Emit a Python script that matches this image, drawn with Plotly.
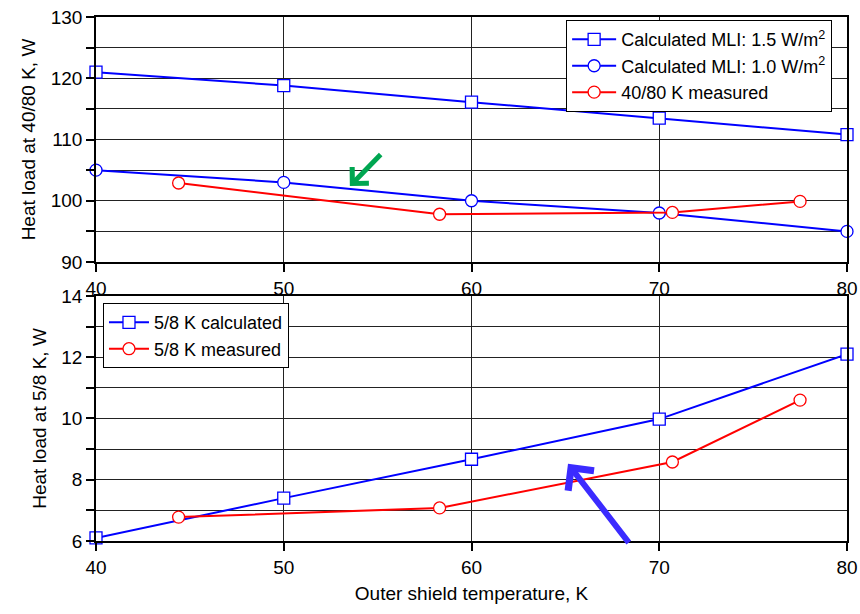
import plotly.graph_objects as go
from plotly.subplots import make_subplots

# Top panel data (40/80 K)
calc_x = [40, 50, 60, 70, 80]
mli15_y = [121.0, 118.8, 116.1, 113.5, 110.8]
mli10_y = [105.0, 103.0, 100.0, 98.0, 95.0]
meas_x = [44.4, 58.3, 70.7, 77.5]
meas4080_y = [102.9, 97.8, 98.1, 99.9]

# Bottom panel data (5/8 K)
calc58_y = [6.1, 7.4, 8.67, 9.98, 12.1]
meas58_y = [6.78, 7.08, 8.58, 10.6]

BLUE = "#0000ff"
RED = "#ff0000"
FONT = "Liberation Sans, Arial, sans-serif"
FS = 19

fig = make_subplots(rows=2, cols=1, shared_xaxes=False, vertical_spacing=0.0)

def add(x, y, name, color, symbol, row, legend):
    fig.add_trace(go.Scatter(
        x=x, y=y, name=name, mode="lines+markers",
        line=dict(color=color, width=2),
        marker=dict(symbol=symbol, size=12, color="white",
                    line=dict(color=color, width=1.3)),
        legend=legend, cliponaxis=False), row=row, col=1)

add(calc_x, mli15_y, "Calculated MLI: 1.5 W/m<sup>2</sup>", BLUE, "square", 1, "legend")
add(calc_x, mli10_y, "Calculated MLI: 1.0 W/m<sup>2</sup>", BLUE, "circle", 1, "legend")
add(meas_x, meas4080_y, "40/80 K measured", RED, "circle", 1, "legend")
add(calc_x, calc58_y, "5/8 K calculated", BLUE, "square", 2, "legend2")
add(meas_x, meas58_y, "5/8 K measured", RED, "circle", 2, "legend2")

axis_common = dict(
    showline=True, linecolor="black", linewidth=1.5, mirror=True,
    ticks="outside", ticklen=8, tickwidth=1.5, tickcolor="black",
    showgrid=True, gridcolor="#222222", gridwidth=1, zeroline=False,
    automargin=False,
    tickfont=dict(family=FONT, size=FS, color="black"),
)

fig.update_xaxes(range=[40, 80], dtick=10, **axis_common)
fig.update_yaxes(**axis_common)
fig.update_yaxes(row=1, col=1, range=[90, 130], dtick=10,
                 minor=dict(dtick=5, ticks="outside", ticklen=8, tickcolor="black",
                            showgrid=True, gridcolor="#222222", gridwidth=1),
                 title=dict(text="Heat load at 40/80 K, W", standoff=10,
                            font=dict(family=FONT, size=FS, color="black")))
fig.update_yaxes(row=2, col=1, range=[6, 14], dtick=2,
                 minor=dict(dtick=1, ticks="outside", ticklen=8, tickcolor="black",
                            showgrid=True, gridcolor="#222222", gridwidth=1),
                 title=dict(text="Heat load at 5/8 K, W", standoff=10,
                            font=dict(family=FONT, size=FS, color="black")))
fig.update_xaxes(row=2, col=1,
                 title=dict(text="Outer shield temperature, K", standoff=10,
                            font=dict(family=FONT, size=FS, color="black")))

fig.update_layout(
    width=860, height=614,
    margin=dict(l=96, r=13, t=17, b=73),
    paper_bgcolor="white", plot_bgcolor="white",
    font=dict(family=FONT, color="black"),
    xaxis=dict(domain=[0, 1], anchor="y"),
    yaxis=dict(domain=[0.5324, 1.0]),
    xaxis2=dict(domain=[0, 1], anchor="y2"),
    yaxis2=dict(domain=[0.0, 0.4676]),
    legend=dict(x=0.626, y=0.994, xanchor="left", yanchor="top",
                bgcolor="white", bordercolor="black", borderwidth=1,
                font=dict(family=FONT, size=FS - 1, color="black"),
                tracegroupgap=0, itemwidth=44),
    legend2=dict(x=0.0093, y=0.454, xanchor="left", yanchor="top",
                 bgcolor="white", bordercolor="black", borderwidth=1,
                 font=dict(family=FONT, size=FS - 1, color="black"),
                 itemwidth=40),
    showlegend=True,
)

# Arrows
fig.add_annotation(x=53.52, y=102.4, ax=55.24, ay=107.8,
                   xref="x", yref="y", axref="x", ayref="y",
                   text="", showarrow=True, arrowhead=4, arrowsize=0.9,
                   arrowwidth=5, arrowcolor="#00a651", standoff=0)
fig.add_annotation(x=65.14, y=8.52, ax=68.44, ay=5.9,
                   xref="x2", yref="y2", axref="x2", ayref="y2",
                   text="", showarrow=True, arrowhead=4, arrowsize=1.05,
                   arrowwidth=6, arrowcolor="#3b2bff", standoff=0)

fig.write_html("out.html")
